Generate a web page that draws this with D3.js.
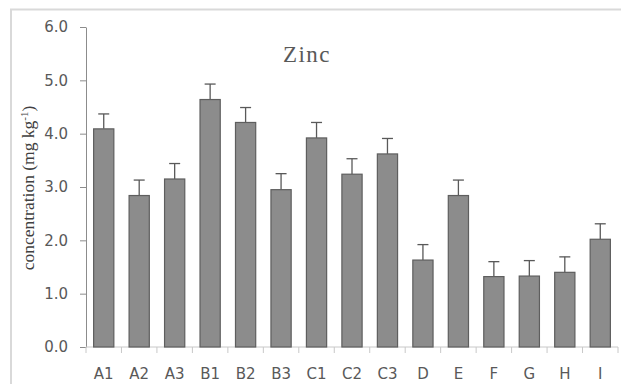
<!DOCTYPE html>
<html>
<head>
<meta charset="utf-8">
<script src="https://cdn.jsdelivr.net/npm/d3@7"></script>
<style>
  body { margin: 0; background: #fff; }
  .tick text { font-family: "DejaVu Sans", sans-serif; fill: #595959; }
</style>
</head>
<body>
<div id="viz"></div>
<script>
var width = 621
var height = 384

// data
var categories = ["A1", "A2", "A3", "B1", "B2", "B3", "C1", "C2", "C3", "D", "E", "F", "G", "H", "I"];
var values = [4.09, 2.84, 3.15, 4.64, 4.21, 2.95, 3.92, 3.24, 3.62, 1.63, 2.84, 1.32, 1.33, 1.40, 2.02];
var errors = [0.28, 0.29, 0.29, 0.29, 0.28, 0.30, 0.29, 0.29, 0.29, 0.29, 0.29, 0.28, 0.29, 0.29, 0.29];
var yTicks = [0, 1, 2, 3, 4, 5, 6];

var margin = {left: 86, right: 3, top: 27, bottom: 37}

var svg = d3.select("#viz")
    .append("svg")
    .attr("width", width)
    .attr("height", height);

// chart frame (only top and left edges show in the crop)
svg.append("rect")
    .attr("x", 11)
    .attr("y", 9.5)
    .attr("width", width)
    .attr("height", height)
    .attr("fill", "none")
    .attr("stroke", "#d9d9d9")
    .attr("stroke-width", 2);

var x = d3.scaleBand()
    .domain(categories)
    .range([margin.left, width - margin.right])
    .paddingInner(0.43)
    .paddingOuter(0.215);

var y = d3.scaleLinear()
    .domain([0, 6])
    .range([height - margin.bottom, margin.top]);

// y axis
var yAxis = svg.append("g")
    .attr("transform", "translate(" + margin.left + ",0)")
    .call(d3.axisLeft(y).tickValues(yTicks).tickFormat(d3.format(".1f")).tickSizeOuter(0).tickPadding(12));
yAxis.selectAll("text").style("font-size", "15px");
yAxis.selectAll("line, path").attr("stroke", "#8c8c8c");

// x axis: ticks between categories
var xAxis = svg.append("g")
    .attr("transform", "translate(0," + y(0) + ")");
xAxis.append("line")
    .attr("x1", margin.left)
    .attr("x2", width - margin.right)
    .attr("stroke", "#c8c8c8");
var step = x.step();
var bounds = d3.range(categories.length + 1).map(function (i) {
    return margin.left + i * step;
});
xAxis.selectAll(".sep")
    .data(bounds)
    .enter().append("line")
    .attr("x1", function (d) { return d; })
    .attr("x2", function (d) { return d; })
    .attr("y1", 0)
    .attr("y2", 6)
    .attr("stroke", "#c8c8c8");
xAxis.selectAll(".cat")
    .data(categories)
    .enter().append("text")
    .attr("x", function (d) { return x(d) + x.bandwidth() / 2; })
    .attr("y", 32)
    .attr("text-anchor", "middle")
    .style("font-family", "DejaVu Sans, sans-serif")
    .style("font-size", "15px")
    .attr("fill", "#595959")
    .text(function (d) { return d; });

// error bars
var errG = svg.append("g");
categories.forEach(function (c, i) {
    var cx = x(c) + x.bandwidth() / 2;
    errG.append("line")
        .attr("x1", cx).attr("x2", cx)
        .attr("y1", y(values[i]))
        .attr("y2", y(values[i] + errors[i]))
        .attr("stroke", "#595959")
        .attr("stroke-width", 1.3);
    errG.append("line")
        .attr("x1", cx - 5.5).attr("x2", cx + 5.5)
        .attr("y1", y(values[i] + errors[i]))
        .attr("y2", y(values[i] + errors[i]))
        .attr("stroke", "#595959")
        .attr("stroke-width", 1.3);
});

// bars
svg.append("g")
    .selectAll("rect")
    .data(values)
    .enter().append("rect")
    .attr("x", function (d, i) { return x(categories[i]); })
    .attr("y", function (d) { return y(d); })
    .attr("width", x.bandwidth())
    .attr("height", function (d) { return y(0) - y(d); })
    .attr("fill", "#8c8c8c")
    .attr("stroke", "#5e5e5e")
    .attr("stroke-width", 1.2);

// title
svg.append("text")
    .attr("x", 307)
    .attr("y", 62)
    .attr("text-anchor", "middle")
    .style("font-family", "Liberation Serif, serif")
    .style("font-size", "23px")
    .style("letter-spacing", "1.5px")
    .attr("fill", "#595959")
    .text("Zinc");

// y label
var yl = svg.append("text")
    .attr("transform", "translate(34," + 188 + ") rotate(-90)")
    .attr("text-anchor", "middle")
    .style("font-family", "Liberation Serif, serif")
    .style("font-size", "17.5px")
    .attr("fill", "#404040");
yl.append("tspan").text("concentration (mg kg");
yl.append("tspan").attr("dy", -6).style("font-size", "11px").text("-1");
yl.append("tspan").attr("dy", 6).text(")");
</script>
</body>
</html>
